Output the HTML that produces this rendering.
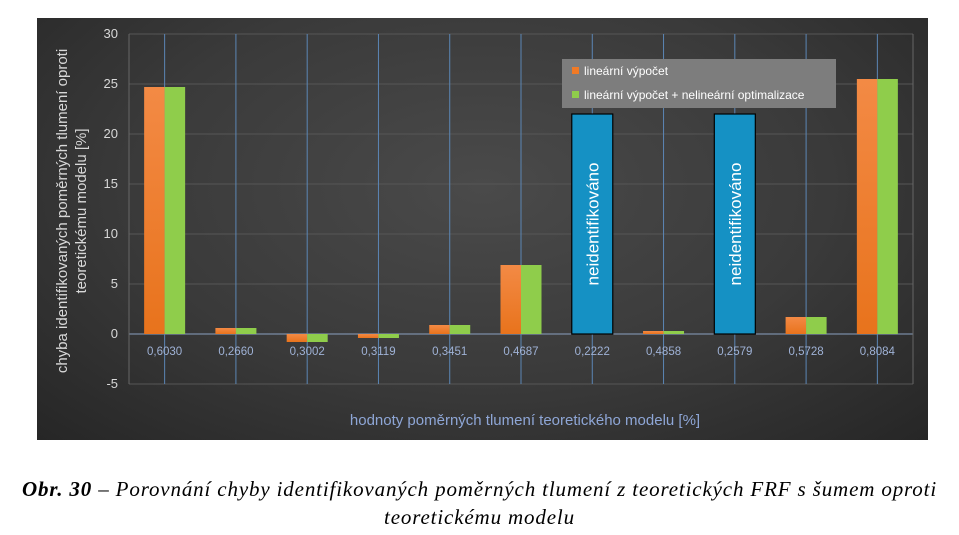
<!DOCTYPE html>
<html><head><meta charset="utf-8"><style>
body{margin:0;width:959px;height:535px;background:#fff;overflow:hidden;font-family:"Liberation Sans",sans-serif}
#chart{position:absolute;left:37px;top:18px;width:891px;height:422px;background:radial-gradient(ellipse at 50% 40%,#4a4a4a 0%,#3a3a3a 55%,#262626 100%)}
#cap{position:absolute;left:0;top:475px;width:959px;text-align:center;font-family:"Liberation Serif",serif;font-style:italic;font-size:21px;letter-spacing:0.85px;line-height:28px;color:#000;white-space:nowrap}
</style></head><body>
<div id="chart"></div>
<svg id="svg" width="959" height="535" style="position:absolute;left:0;top:0">
<defs>
<linearGradient id="og" x1="0" y1="0" x2="0" y2="1"><stop offset="0" stop-color="#f38a45"/><stop offset="1" stop-color="#e8731c"/></linearGradient>
</defs>
<g id="grid"></g><g id="bars"></g><g id="labels"></g>
</svg>
<div id="cap"><b>Obr. 30</b> – Porovnání chyby identifikovaných poměrných tlumení z teoretických FRF s šumem oproti<br>teoretickému modelu</div>
<script>
const categories=["0,6030","0,2660","0,3002","0,3119","0,3451","0,4687","0,2222","0,4858","0,2579","0,5728","0,8084"];
const linear=[24.7,0.6,-0.8,-0.4,0.9,6.9,null,0.3,null,1.7,25.5];
const optimized=[24.7,0.6,-0.8,-0.4,0.9,6.9,null,0.3,null,1.7,25.5];
const unidentified=[6,8];
const unidentifiedHeight=22;
const yTicks=[30,25,20,15,10,5,0,-5];
const NS="http://www.w3.org/2000/svg";
const L=129,R=913,T=34,yMin=-5,yMax=30,B=384;
const y=v=>T+(yMax-v)/(yMax-yMin)*(B-T);
const bw=(R-L)/categories.length;
const cx=i=>L+bw*(i+0.5);
function mk(tag,attrs,parent,text){const e=document.createElementNS(NS,tag);for(const k in attrs)e.setAttribute(k,attrs[k]);if(text!==undefined)e.textContent=text;parent.appendChild(e);return e;}
const grid=document.getElementById('grid'),bars=document.getElementById('bars'),lab=document.getElementById('labels');
yTicks.forEach(t=>{
 const l=mk('line',{x1:L,x2:R,y1:y(t),y2:y(t),stroke:t===0?'#8aa0c0':'#565656','stroke-width':1},grid);
 
 
 const tx=mk('text',{x:118,y:y(t)+4,'text-anchor':'end','font-size':13,fill:'#d8d8d8'},lab,String(t));
 
 
});
mk('line',{x1:L,x2:L,y1:T,y2:B,stroke:'#666'},grid);
mk('line',{x1:R,x2:R,y1:T,y2:B,stroke:'#666'},grid);
categories.forEach((c,i)=>{
 const g=mk('line',{x1:cx(i),x2:cx(i),y1:T,y2:B,stroke:'#5b86b5','stroke-width':1},grid);
 
 
 [[linear,'url(#og)',-20.5],[optimized,'#8fcd4b',0]].forEach(([arr,col,off],s)=>{
  const v=arr[i]; if(v===null)return;
  const r=mk('rect',{x:cx(i)+off,width:20.5,y:Math.min(y(v),y(0)),height:Math.max(1.5,Math.abs(y(v)-y(0))),fill:col},bars);
  
  
 });
 const tx=mk('text',{x:cx(i),y:355,'text-anchor':'middle','font-size':11.5,fill:'#9fb2d6'},lab,c);
 
 
});
unidentified.forEach(i=>{
 const r=mk('rect',{x:cx(i)-20.5,width:41,y:y(unidentifiedHeight),height:y(0)-y(unidentifiedHeight),fill:'#1591c4',stroke:'#000','stroke-width':1.2},bars);
 
 
 const t=mk('text',{x:0,y:0,'text-anchor':'middle','font-size':17,fill:'#fff',transform:`translate(${cx(i)+6},${(y(unidentifiedHeight)+y(0))/2}) rotate(-90)`},bars,'neidentifikováno');
 
 
});
const yt=mk('text',{'text-anchor':'middle','font-size':15,fill:'#d8d8d8',transform:'translate(0,211) rotate(-90)'},lab);


mk('tspan',{x:0,y:67},yt,'chyba identifikovaných poměrných tlumení oproti');
mk('tspan',{x:0,y:86},yt,'teoretickému modelu [%]');
const xt=mk('text',{x:525,y:425,'text-anchor':'middle','font-size':15,fill:'#8ea6d6'},lab,'hodnoty poměrných tlumení teoretického modelu [%]');


const lg=mk('g',{},lab);


mk('rect',{x:562,y:59,width:274,height:49,fill:'#7d7d7d'},lg);
const e1=mk('g',{},lg);


mk('rect',{x:572,y:67,width:7,height:7,fill:'#f07a26'},e1);
mk('text',{x:584,y:75,'font-size':12,fill:'#fff'},e1,'lineární výpočet');
const e2=mk('g',{},lg);


mk('rect',{x:572,y:91,width:7,height:7,fill:'#8fcd4b'},e2);
mk('text',{x:584,y:99,'font-size':12,fill:'#fff'},e2,'lineární výpočet + nelineární optimalizace');
</script>
</body></html>
